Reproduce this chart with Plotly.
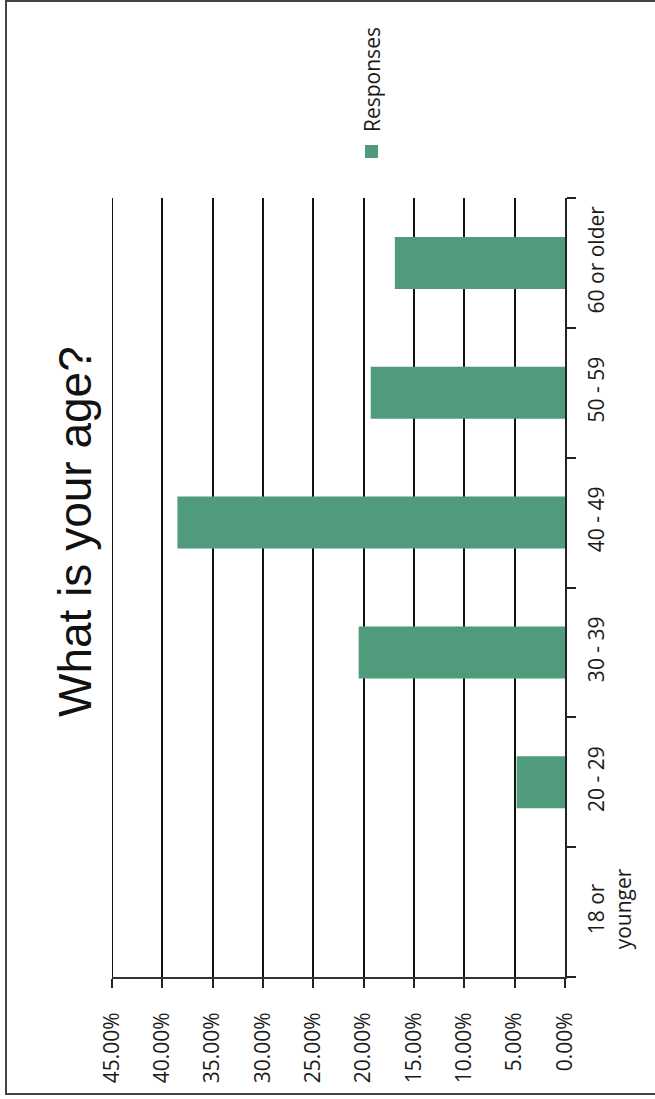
import plotly.graph_objects as go

categories = ["18 or<br>younger", "20 - 29", "30 - 39", "40 - 49", "50 - 59", "60 or older"]
responses = [0.0, 4.8, 20.5, 38.5, 19.3, 16.9]
tick_vals = [0, 5, 10, 15, 20, 25, 30, 35, 40, 45]
tick_text = ["0.00%", "5.00%", "10.00%", "15.00%", "20.00%", "25.00%", "30.00%", "35.00%", "40.00%", "45.00%"]

W, H = 655, 1099
L, R, T, B = 112, 90, 198, 122
PW, PH = W - L - R, H - T - B

def px(x):
    return (x - L) / PW

def py(y):
    return (H - B - y) / PH

BAR = "#4f9b7b"
FONT = "Open Sans"

fig = go.Figure()
fig.add_trace(go.Bar(
    y=categories, x=responses, orientation="h",
    marker=dict(color=BAR, line=dict(width=0)),
    name="Responses", showlegend=False,
))

fig.update_layout(
    width=W, height=H,
    margin=dict(l=L, r=R, t=T, b=B),
    paper_bgcolor="white", plot_bgcolor="white",
    bargap=0.6,
    font=dict(family=FONT, size=21, color="#1a1a1a"),
    xaxis=dict(
        range=[45, 0], tickvals=tick_vals, ticktext=tick_text,
        tickangle=-90, showgrid=True, gridcolor="#111111", gridwidth=2,
        showline=True, linecolor="#333333", linewidth=2,
        ticks="outside", ticklen=9, tickcolor="#222222", tickwidth=2,
        ticklabelstandoff=16, zeroline=False,
        tickfont=dict(family=FONT, size=21, color="#1a1a1a"),
    ),
    yaxis=dict(
        side="right", type="category", categoryorder="array", categoryarray=categories,
        tickangle=-90, showgrid=False, showline=True, linecolor="#222222", linewidth=2,
        ticks="outside", tickson="boundaries", ticklen=9, tickcolor="#222222", tickwidth=2,
        ticklabelstandoff=12,
        tickfont=dict(family=FONT, size=21, color="#1a1a1a"),
    ),
)

# gridline at the far edge of the value range (plotly skips edge gridlines)
fig.add_shape(type="line", xref="x", yref="paper",
              x0=tick_vals[-1], x1=tick_vals[-1], y0=0, y1=1,
              line=dict(color="#111111", width=2), layer="below")

# title (rotated)
fig.add_annotation(
    text="What is your age?", textangle=-90,
    x=px(75), y=py(532), xref="paper", yref="paper",
    showarrow=False, xanchor="center", yanchor="middle",
    font=dict(family="Liberation Sans", size=46, color="#111111"),
)

# legend (rotated)
fig.add_annotation(
    text="Responses", textangle=-90,
    x=px(372), y=py(80), xref="paper", yref="paper",
    showarrow=False, xanchor="center", yanchor="middle",
    font=dict(family=FONT, size=21, color="#1a1a1a"),
)
fig.add_shape(type="rect", xref="paper", yref="paper",
              x0=px(365), x1=px(378), y0=py(158), y1=py(145),
              fillcolor=BAR, line=dict(width=0))

# outer border
fig.add_shape(type="rect", xref="paper", yref="paper",
              x0=px(6), x1=px(662), y0=py(1094), y1=py(1),
              fillcolor="rgba(0,0,0,0)", line=dict(color="#444444", width=2))

fig.write_html("out.html", config={"displayModeBar": False},
               post_script="document.body.style.margin='0px';")
